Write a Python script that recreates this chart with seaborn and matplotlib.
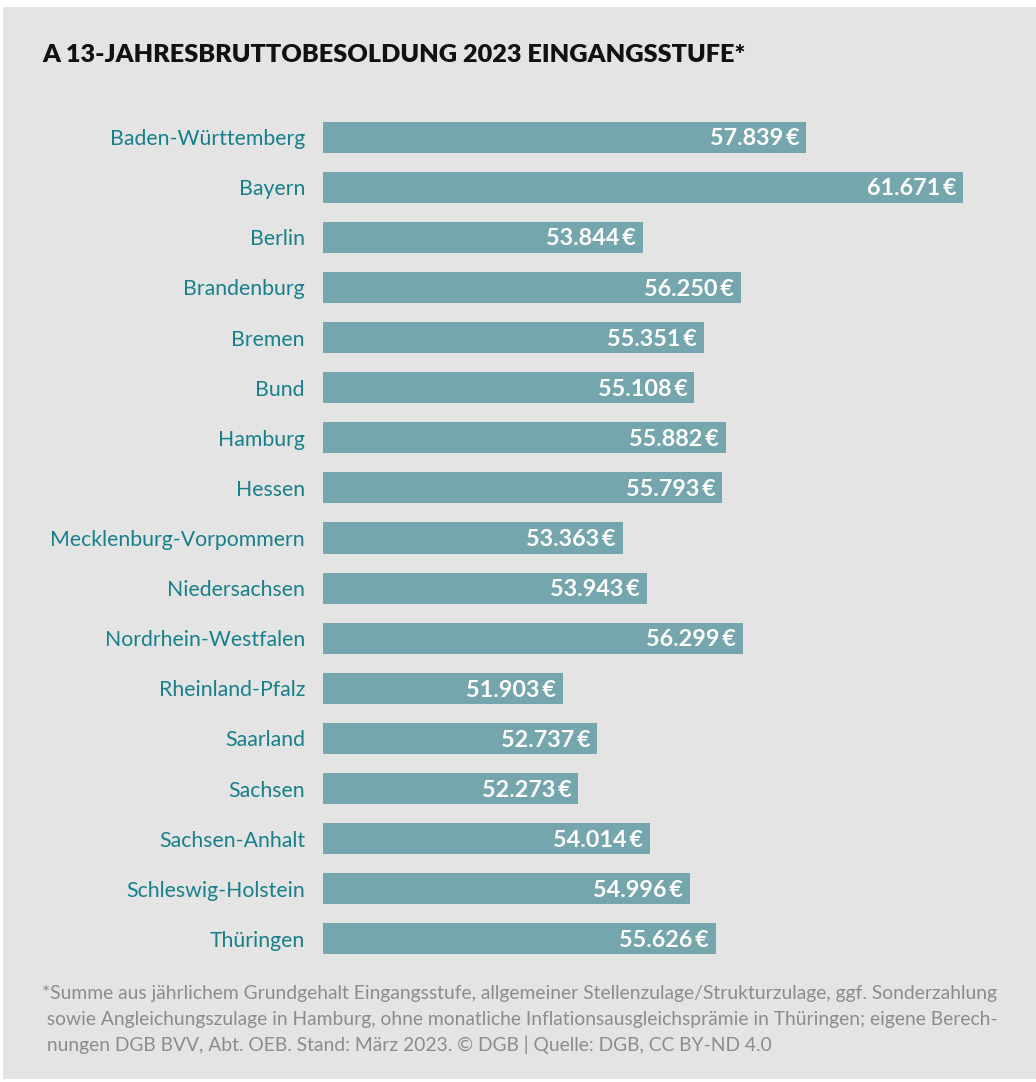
import matplotlib
matplotlib.use("Agg")
import matplotlib.pyplot as plt
import seaborn as sns
import pandas as pd
from matplotlib.patches import Rectangle

states = ["Baden-Württemberg", "Bayern", "Berlin", "Brandenburg", "Bremen", "Bund",
          "Hamburg", "Hessen", "Mecklenburg-Vorpommern", "Niedersachsen",
          "Nordrhein-Westfalen", "Rheinland-Pfalz", "Saarland", "Sachsen",
          "Sachsen-Anhalt", "Schleswig-Holstein", "Thüringen"]
values = [57839, 61671, 53844, 56250, 55351, 55108, 55882, 55793, 53363, 53943,
          56299, 51903, 52737, 52273, 54014, 54996, 55626]

title = "A 13-JAHRESBRUTTOBESOLDUNG 2023 EINGANGSSTUFE*"
footnote = ["*Summe aus jährlichem Grundgehalt Eingangsstufe, allgemeiner Stellenzulage/Strukturzulage, ggf. Sonderzahlung",
            " sowie Angleichungszulage in Hamburg, ohne monatliche Inflationsausgleichsprämie in Thüringen; eigene Berech-",
            " nungen DGB BVV, Abt. OEB. Stand: März 2023. © DGB | Quelle: DGB, CC BY-ND 4.0"]

df = pd.DataFrame({"Land": states, "Wert": values})

sns.set_theme(style="white")
plt.rcParams['font.family'] = ['Lato', 'DejaVu Sans']

W, H = 1036, 1082
fig = plt.figure(figsize=(W / 100, H / 100), dpi=100)
fig.patch.set_facecolor("white")
bg = "#e3e4e3"
fig.patches.append(Rectangle((3 / W, 1 - 1079 / H), (W - 3) / W, (1079 - 7) / H,
                             transform=fig.transFigure, facecolor=bg, edgecolor="none", zorder=-5))

left_px, right_px = 323, 1000
top_px, bot_px = 112, 964
ax = fig.add_axes([left_px / W, 1 - bot_px / H, (right_px - left_px) / W, (bot_px - top_px) / H])
ax.set_facecolor("none")
ax.set_zorder(2)

sns.barplot(data=df, x="Wert", y="Land", orient="h", color="#76a6ad", saturation=1,
            width=0.62, linewidth=0, edgecolor="none", ax=ax)

scale = 0.04095  # px per unit
x0 = 46040
ax.set_xlim(x0, x0 + (right_px - left_px) / scale)
ax.set_ylim(len(states) - 0.5, -0.5)

for s in ax.spines.values():
    s.set_visible(False)
ax.set_xticks([])
ax.set_xlabel("")
ax.set_ylabel("")
ax.tick_params(axis="y", length=0, pad=13)
for lab in ax.get_yticklabels():
    lab.set_color("#17808b")
    lab.set_fontsize(15.3)

for i, v in enumerate(values):
    txt = f"{v:,}".replace(",", ".") + "\u2009€"
    ax.annotate(txt, xy=(v, i), xytext=(-5, -1.2), textcoords="offset points",
                ha="right", va="center", color="white", fontsize=16.8, fontweight="bold")

fig.text(42 / W, 1 - 55 / H, title, ha="left", va="center", fontsize=18.2,
         fontweight="heavy", color="#111111")

for k, line in enumerate(footnote):
    fig.text(42 / W, 1 - (993 + 26 * k) / H, line, ha="left", va="center",
             fontsize=13.9, color="#8c8c8c")

fig.savefig("out.png", dpi=100, facecolor="white")
